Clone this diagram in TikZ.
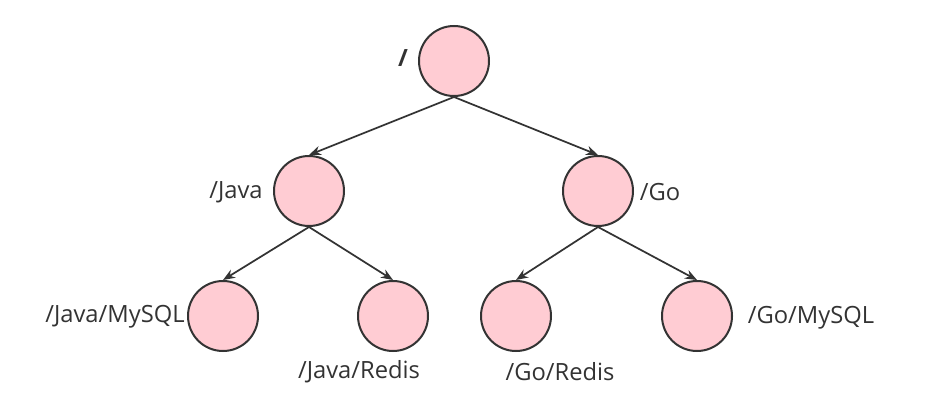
\documentclass[tikz,border=0pt]{standalone}
\usepackage{fontspec}
\setmainfont{Open Sans}
\usetikzlibrary{arrows.meta}
\definecolor{nodefill}{RGB}{255,204,211}
\definecolor{ink}{RGB}{51,51,51}
\begin{document}
\begin{tikzpicture}[x=0.75pt,y=-0.75pt,
  vert/.style={circle,draw=ink,fill=nodefill,line width=1.5pt,minimum size=52.5pt,inner sep=0pt},
  lbl/.style={text=ink,font=\fontsize{17.8pt}{20pt}\selectfont,inner sep=0pt,anchor=center},
  edge/.style={draw=ink,line width=1.3pt,-{Stealth[length=9pt,width=7pt]}}]
\useasboundingbox (0,0) rectangle (927,420);
\node[vert] (root) at (454,61) {};
\node[vert] (java) at (309,191) {};
\node[vert] (go) at (598,191) {};
\node[vert] (jm) at (223,316) {};
\node[vert] (jr) at (393,316) {};
\node[vert] (gr) at (516,316) {};
\node[vert] (gm) at (697,316) {};
\node[lbl,font=\fontsize{17.8pt}{20pt}\selectfont\bfseries] (lroot) at (403,58) {/};
\node[lbl] (ljava) at (236,192) {/Java};
\node[lbl] (lgo) at (660,192) {/Go};
\node[lbl] (ljm) at (115,317) {/Java/MySQL};
\node[lbl] (ljr) at (359,372) {/Java/Redis};
\node[lbl] (lgr) at (560,372) {/Go/Redis};
\node[lbl] (lgm) at (811,318) {/Go/MySQL};
\draw[edge] (root.south) -- (java.north);
\draw[edge] (root.south) -- (go.north);
\draw[edge] (java.south) -- (jm.north);
\draw[edge] (java.south) -- (jr.north);
\draw[edge] (go.south) -- (gr.north);
\draw[edge] (go.south) -- (gm.north);
\end{tikzpicture}
\end{document}
